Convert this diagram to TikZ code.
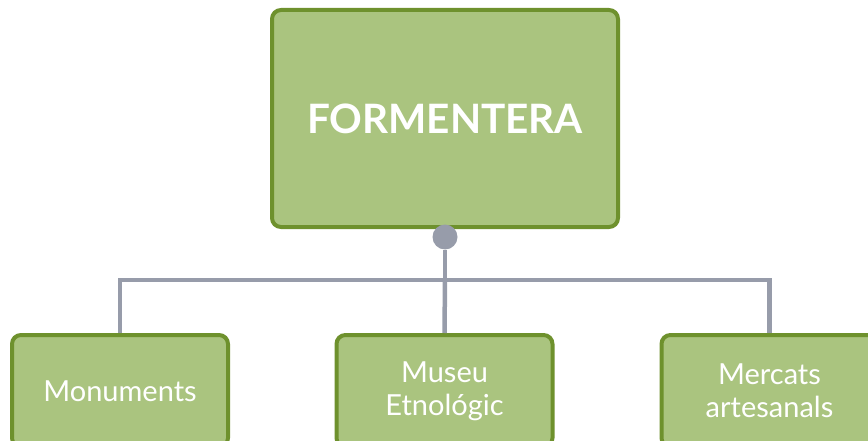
\documentclass[tikz,border=0pt]{standalone}
\usepackage{fontspec}
\setmainfont{Lato}
\definecolor{boxfill}{HTML}{AAC47F}
\definecolor{boxedge}{HTML}{6E912D}
\definecolor{linkgrey}{HTML}{979CAA}
\tikzset{
  mainbox/.style={draw=boxedge, fill=boxfill, line width=4pt, rounded corners=9pt,
    minimum width=346pt, minimum height=217pt, text=white, font=\bfseries\fontsize{40.5}{46}\selectfont, inner sep=0pt},
  childbox/.style={draw=boxedge, fill=boxfill, line width=4pt, rounded corners=9pt,
    minimum width=216pt, minimum height=112pt, text=white, font=\fontsize{29}{33}\selectfont,
    align=center, inner sep=0pt},
  link/.style={draw=linkgrey, line width=4.5pt},
  knob/.style={circle, fill=linkgrey, minimum size=25pt, inner sep=0pt}
}
\begin{document}
\begin{tikzpicture}[x=1pt,y=-1pt]
\useasboundingbox (0,0) rectangle (868,441);
\clip (0,0) rectangle (868,441);
\node[mainbox] (main) at (445,118.5) {FORMENTERA};
\coordinate (junc) at (445,280);
\node[childbox] (c1) at (120,391) {Monuments};
\node[childbox] (c2) at (444.5,391) {Museu\\Etnológic};
\node[childbox] (c3) at (769.5,391) {Mercats\\artesanals};
\node[knob] (dot) at (445,237) {};
\draw[link] (dot) -- (junc);
\draw[link] (junc) -| (c1.north);
\draw[link] (junc) -| (c3.north);
\draw[link] (junc) -- (c2.north);
\end{tikzpicture}
\end{document}
